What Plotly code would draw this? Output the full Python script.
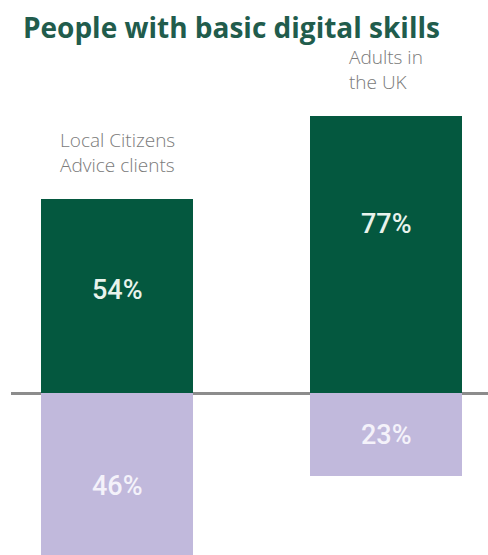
import plotly.graph_objects as go

categories = ["Local Citizens<br>Advice clients", "Adults in<br>the UK"]
with_skills = [54, 77]
without_skills = [46, 23]

x_pos = [0, 1]
green = "#04583f"
purple = "#c1b9dc"

fig = go.Figure()
fig.add_trace(go.Bar(x=x_pos, y=with_skills, marker=dict(color=green, line=dict(width=0)),
                     width=0.565, hoverinfo="skip"))
fig.add_trace(go.Bar(x=x_pos, y=[-v for v in without_skills], marker=dict(color=purple, line=dict(width=0)),
                     width=0.565, hoverinfo="skip"))

annotations = []
for xi, cat, g, p in zip(x_pos, categories, with_skills, without_skills):
    annotations.append(dict(x=xi, y=g, xref="x", yref="y", text=cat, showarrow=False,
                            xanchor="center", yanchor="bottom", align="left", yshift=19,
                            font=dict(family="Open Sans", size=19, color="#7a7a7a", weight=300)))
    annotations.append(dict(x=xi, y=0.8 * g - 14.6, xref="x", yref="y", text=f"{g}%", showarrow=False,
                            xanchor="center", yanchor="middle",
                            font=dict(family="Roboto", size=27, color="#e8f3ec", weight=500)))
    annotations.append(dict(x=xi, y=-0.613 * p + 2.4, xref="x", yref="y", text=f"{p}%", showarrow=False,
                            xanchor="center", yanchor="middle",
                            font=dict(family="Roboto", size=27, color="#f4f2fa", weight=500)))

fig.update_layout(
    width=488, height=555,
    margin=dict(l=11, r=0, t=50, b=0),
    paper_bgcolor="white", plot_bgcolor="white",
    barmode="relative", showlegend=False, bargap=0,
    title=dict(text="<b>People with basic digital skills</b>", x=0.047, xanchor="left",
               y=0.95, yanchor="middle",
               font=dict(family="Open Sans", size=28, color="#215c4c")),
    xaxis=dict(range=[-0.394, 1.379], visible=False, fixedrange=True),
    yaxis=dict(range=[-45, 95.3], showgrid=False, showticklabels=False, ticks="",
               zeroline=True, zerolinecolor="#8c8c8c", zerolinewidth=3, fixedrange=True),
    annotations=annotations,
)

fig.write_html("out.html")
